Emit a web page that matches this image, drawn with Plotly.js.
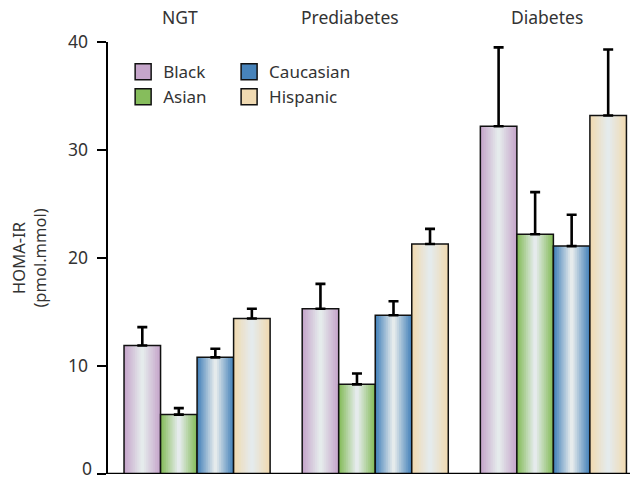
<!DOCTYPE html>
<html>
<head>
<meta charset="utf-8">
<script src="https://cdn.plot.ly/plotly-3.0.1.min.js"></script>
<style>html,body{margin:0;padding:0;background:#fff;}#chart{width:634px;height:481px;}</style>
</head>
<body>
<div id="chart"></div>
<script>
// ---- data ----
const categories = ["NGT", "Prediabetes", "Diabetes"];
const seriesNames = ["Black", "Asian", "Caucasian", "Hispanic"];
const blackVals = [11.9, 15.3, 32.2];
const blackErrTop = [13.6, 17.6, 39.5];
const asianVals = [5.5, 8.3, 22.2];
const asianErrTop = [6.1, 9.3, 26.1];
const caucasianVals = [10.8, 14.7, 21.1];
const caucasianErrTop = [11.6, 16.0, 24.0];
const hispanicVals = [14.4, 21.3, 33.2];
const hispanicErrTop = [15.3, 22.7, 39.3];
const yTicks = [0, 10, 20, 30, 40];

// ---- styling ----
const edgeColors = ["#c6a6cb", "#86bd5c", "#4783ba", "#f0dab2"];
const centerColor = "#e5ebec";
const values = [blackVals, asianVals, caucasianVals, hispanicVals];
const errTops = [blackErrTop, asianErrTop, caucasianErrTop, hispanicErrTop];
const textColor = "#333333";
const fontFam = "Noto Sans, Open Sans, sans-serif";

function hexToRgb(h){h=h.replace('#','');return [parseInt(h.substr(0,2),16),parseInt(h.substr(2,2),16),parseInt(h.substr(4,2),16)];}
function mix(a,b,t){const A=hexToRgb(a),B=hexToRgb(b);return 'rgb('+A.map((v,i)=>Math.round(v+(B[i]-v)*t)).join(',')+')';}

const groupWidth = 0.82;
const W = groupWidth / seriesNames.length;
const N = 10;
const traces = [];

seriesNames.forEach((name, i) => {
  const center = -groupWidth/2 + W*(i+0.5);
  for (let k = 0; k < N; k++) {
    const w = W * (1 - k/N);
    traces.push({
      type: 'bar', x: categories, y: values[i],
      width: w, offset: center - w/2,
      marker: {color: mix(edgeColors[i], centerColor, k/(N-1)), line: {width: 0}},
      showlegend: false, hoverinfo: 'skip'
    });
  }
  traces.push({
    type: 'bar', x: categories, y: values[i], name: name,
    width: W, offset: center - W/2,
    marker: {color: 'rgba(0,0,0,0)', line: {color: '#111', width: 1.5}},
    error_y: {type: 'data', symmetric: false,
      array: errTops[i].map((e, j) => e - values[i][j]), arrayminus: values[i].map(() => 0),
      color: '#000', thickness: 2.6, width: 5},
    showlegend: false
  });
});

// legend entries
seriesNames.forEach((name, i) => {
  traces.push({
    type: 'scatter', mode: 'markers', x: [null], y: [null], name: name,
    marker: {symbol: 'square', size: 16, color: edgeColors[i], line: {color: '#111', width: 1.5}},
    legend: (i === 0 || i === 1) ? 'legend' : 'legend2',
    showlegend: true
  });
});

const groupLabelX = [0.138, 0.464, 0.841];
const annotations = categories.map((c, j) => ({
  text: c, xref: 'paper', yref: 'paper', x: groupLabelX[j], y: 1,
  xanchor: 'center', yanchor: 'bottom', yshift: 11, showarrow: false,
  font: {family: fontFam, size: 17.5, color: textColor}
}));

const layout = {
  width: 634, height: 481,
  margin: {l: 108, r: 4, t: 42, b: 7, pad: 0},
  paper_bgcolor: '#fff', plot_bgcolor: '#fff',
  barmode: 'overlay',
  showlegend: true,
  font: {family: fontFam, size: 16, color: textColor},
  xaxis: {type: 'category', range: [-0.5, 2.43], showticklabels: false, ticks: '',
    showline: false, showgrid: false, zeroline: false, fixedrange: true},
  yaxis: {range: [0, 40], tickvals: yTicks, ticktext: yTicks.map(String),
    ticks: 'outside', ticklen: 9, tickwidth: 2.5, tickcolor: '#000',
    showline: true, linewidth: 2.5, linecolor: '#000',
    showgrid: false, zeroline: false, ticklabelstandoff: 5,
    tickfont: {family: fontFam, size: 17.5, color: textColor},
    title: {text: 'HOMA-IR<br>(pmol.mmol)', standoff: 17, font: {family: fontFam, size: 16.5, color: textColor}},
    automargin: false},
  legend: {x: 0.029, y: 0.972, xanchor: 'left', yanchor: 'top', bgcolor: 'rgba(0,0,0,0)',
    font: {family: fontFam, size: 17, color: textColor}, itemwidth: 30, tracegroupgap: 0},
  legend2: {x: 0.232, y: 0.972, xanchor: 'left', yanchor: 'top', bgcolor: 'rgba(0,0,0,0)',
    font: {family: fontFam, size: 17, color: textColor}, itemwidth: 30, tracegroupgap: 0},
  shapes: [{type: 'line', xref: 'paper', yref: 'y', x0: 0, x1: 1, y0: 0, y1: 0,
    line: {color: '#000', width: 2.5}}],
  annotations: annotations.concat([{
    text: String(yTicks[0]), xref: 'paper', yref: 'paper', x: 0, y: 0,
    xanchor: 'right', yanchor: 'bottom', xshift: -14, yshift: -8, showarrow: false,
    font: {family: fontFam, size: 17.5, color: textColor}
  }])
};

Plotly.newPlot('chart', traces, layout, {displayModeBar: false, staticPlot: true});
</script>
</body>
</html>
